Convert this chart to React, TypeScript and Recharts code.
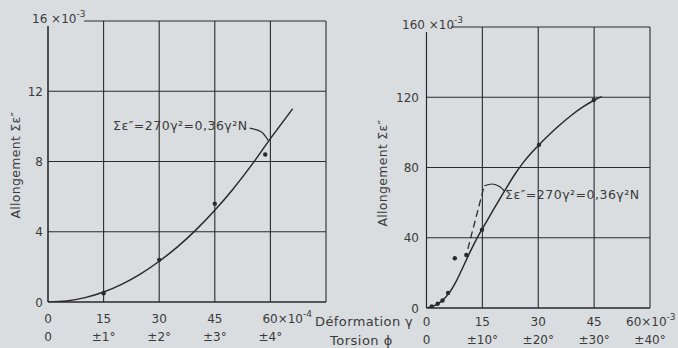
import React from 'react';
import { ComposedChart, Line, Scatter, XAxis, YAxis, CartesianGrid } from 'recharts';

// ---------- Left chart data ----------
const leftXTicks = [0, 15, 30, 45, 60, 75];
const leftYTicks = [0, 4, 8, 12, 16];
const leftDefLabels = ['0', '15', '30', '45', '60'];
const leftTorsionLabels = ['0', '±1°', '±2°', '±3°', '±4°'];
const leftCurveX = [0, 5, 10, 15, 20, 25, 30, 35, 40, 45, 50, 55, 60, 66];
const leftCurveY = [0, 0.06, 0.25, 0.57, 1.02, 1.6, 2.32, 3.15, 4.12, 5.22, 6.45, 7.82, 9.3, 11.0];
const leftPointsX = [15, 30, 45, 58.6];
const leftPointsY = [0.5, 2.4, 5.6, 8.4];
const leftLeaderX = [54.4, 57.5, 59.4];
const leftLeaderY = [9.9, 9.7, 9.2];

// ---------- Right chart data ----------
const rightXTicks = [0, 15, 30, 45, 60];
const rightYTicks = [0, 40, 80, 120, 160];
const rightDefLabels = ['0', '15', '30', '45', '60'];
const rightTorsionLabels = ['0', '±10°', '±20°', '±30°', '±40°'];
const rightCurveX = [0, 2, 4, 6, 8, 10, 12, 14, 16, 18, 20, 22, 24, 26, 28, 30, 33, 36, 39, 42, 45, 47];
const rightCurveY = [0, 1.2, 3.8, 8.3, 15.3, 24.2, 33.2, 41.5, 48.8, 56.1, 63.3, 70.3, 77.0, 82.9, 88.0, 92.5, 98.8, 104.6, 109.9, 114.5, 118.3, 120.4];
const rightPointsX = [1.4, 3, 4.3, 5.8, 7.6, 10.7, 14.9, 30.2, 44.9];
const rightPointsY = [0.9, 2.4, 4.3, 8.6, 28.3, 30.2, 44.6, 92.9, 118.4];
const rightDashX = [11.1, 15.5];
const rightDashY = [33.7, 69.6];
const rightLeaderX = [15.5, 17.6, 19.6, 21.0];
const rightLeaderY = [69.6, 70.6, 69.2, 66.4];

const zip = (xs: number[], ys: number[]) => xs.map((x, i) => ({ x, y: ys[i] }));

const leftCurve = zip(leftCurveX, leftCurveY);
const leftPoints = zip(leftPointsX, leftPointsY);
const leftLeader = zip(leftLeaderX, leftLeaderY);
const rightCurve = zip(rightCurveX, rightCurveY);
const rightPoints = zip(rightPointsX, rightPointsY);
const rightDash = zip(rightDashX, rightDashY);
const rightLeader = zip(rightLeaderX, rightLeaderY);

const BG = '#d9dde0';
const INK = '#2a2a2a';
const TXT = '#3a3a3a';
const FONT = '"DejaVu Sans", sans-serif';

const makeXTick = (ticks: number[], defs: string[], tors: string[], exp: string, expOffset: number, dy1: number, dy2: number) =>
  (props: any) => {
    const { x, y, payload } = props;
    const i = ticks.indexOf(payload.value);
    if (i < 0 || i >= defs.length) return <g />;
    const last = i === defs.length - 1;
    return (
      <g fontFamily={FONT} fill={TXT} fontSize={12}>
        {last ? (
          <text x={x - expOffset} y={y + dy1} textAnchor="start">
            {defs[i]}×10<tspan dy={-6} fontSize={9}>{exp}</tspan>
          </text>
        ) : (
          <text x={x} y={y + dy1} textAnchor="middle">{defs[i]}</text>
        )}
        <text x={x} y={y + dy2} textAnchor="middle">{tors[i]}</text>
      </g>
    );
  };

const makeYTick = (top: number, topLabel: string, topX: number, topW: number, endX: number) =>
  (props: any) => {
    const { y, payload } = props;
    if (payload.value === top) {
      return (
        <g fontFamily={FONT} fill={TXT} fontSize={12}>
          <rect x={topX - 2} y={y - 12} width={topW + 4} height={17} fill={BG} />
          <text x={topX} y={y + 2} textAnchor="start">
            {topLabel} ×10<tspan dy={-6} fontSize={9}>-3</tspan>
          </text>
        </g>
      );
    }
    return (
      <text x={endX} y={y + 4.5} textAnchor="end" fontFamily={FONT} fill={TXT} fontSize={12}>
        {payload.value}
      </text>
    );
  };

const leftXTick = makeXTick(leftXTicks, leftDefLabels, leftTorsionLabels, '-4', 8, 20.5, 38.5);
const rightXTick = makeXTick(rightXTicks, rightDefLabels, rightTorsionLabels, '-3', 24, 18, 36);
const leftYTick = makeYTick(16, '16', 32, 50, 43);
const rightYTick = makeYTick(160, '160', 402, 47, 419);

const Formula = ({ x, y }: { x: number; y: number }) => (
  <text x={x} y={y} fontFamily={FONT} fill={TXT} fontSize={12.5} letterSpacing={0.5}>
    Σε″=270γ²=0,36γ²N
  </text>
);

const chartStyle: React.CSSProperties = { position: 'absolute', left: 0, top: 0 };

export default function App() {
  return (
    <div style={{ position: 'absolute', left: 0, top: 0, width: 678, height: 348, background: BG, overflow: 'hidden' }}>
      {/* Left chart */}
      <div style={chartStyle}>
        <ComposedChart width={678} height={348} margin={{ top: 21, right: 352, bottom: 0, left: 0 }}>
          <CartesianGrid stroke={INK} strokeWidth={1.1} />
          <XAxis
            xAxisId={0}
            type="number"
            dataKey="x"
            domain={[0, 75]}
            ticks={leftXTicks}
            height={46}
            tickSize={0}
            tickMargin={0}
            axisLine={{ stroke: INK, strokeWidth: 1.1 }}
            tickLine={false}
            tick={leftXTick}
            allowDataOverflow
          />
          <YAxis
            yAxisId={0}
            type="number"
            dataKey="y"
            domain={[0, 16]}
            ticks={leftYTicks}
            width={48}
            tickSize={0}
            tickMargin={0}
            axisLine={{ stroke: INK, strokeWidth: 1.1 }}
            tickLine={false}
            tick={leftYTick}
            allowDataOverflow
          />
          <Line data={leftCurve} dataKey="y" type="monotone" stroke={INK} strokeWidth={1.5} dot={false} isAnimationActive={false} />
          <Line data={leftLeader} dataKey="y" type="natural" stroke={INK} strokeWidth={1.2} dot={false} isAnimationActive={false} />
          <Scatter data={leftPoints} dataKey="y" fill={INK} shape={(p: any) => <circle cx={p.cx} cy={p.cy} r={2.2} fill={INK} />} isAnimationActive={false} />
          <text x={15} y={165} transform="rotate(-90 15 165)" textAnchor="middle" dominantBaseline="central" fontFamily={FONT} fill={TXT} fontSize={12.5} letterSpacing={0.3}>
            Allongement  Σε″
          </text>
          <Formula x={113} y={130} />
          <text x={315} y={325.5} fontFamily={FONT} fill={TXT} fontSize={13} letterSpacing={0.4}>Déformation γ</text>
          <text x={330} y={344.5} fontFamily={FONT} fill={TXT} fontSize={13} letterSpacing={0.5}>Torsion ϕ</text>
        </ComposedChart>
      </div>
      {/* Right chart */}
      <div style={chartStyle}>
        <ComposedChart width={678} height={348} margin={{ top: 27, right: 28, bottom: 0, left: 0 }}>
          <CartesianGrid stroke={INK} strokeWidth={1.1} />
          <XAxis
            xAxisId={0}
            type="number"
            dataKey="x"
            domain={[0, 60]}
            ticks={rightXTicks}
            height={40}
            tickSize={0}
            tickMargin={0}
            axisLine={{ stroke: INK, strokeWidth: 1.1 }}
            tickLine={false}
            tick={rightXTick}
            allowDataOverflow
          />
          <YAxis
            yAxisId={0}
            type="number"
            dataKey="y"
            domain={[0, 160]}
            ticks={rightYTicks}
            width={426.5}
            tickSize={0}
            tickMargin={0}
            axisLine={{ stroke: INK, strokeWidth: 1.1 }}
            tickLine={false}
            tick={rightYTick}
            allowDataOverflow
          />
          <Line data={rightCurve} dataKey="y" type="monotone" stroke={INK} strokeWidth={1.5} dot={false} isAnimationActive={false} />
          <Line data={rightDash} dataKey="y" type="linear" stroke={INK} strokeWidth={1.3} strokeDasharray="7 4" dot={false} isAnimationActive={false} />
          <Line data={rightLeader} dataKey="y" type="natural" stroke={INK} strokeWidth={1.2} dot={false} isAnimationActive={false} />
          <Scatter data={rightPoints} dataKey="y" fill={INK} shape={(p: any) => <circle cx={p.cx} cy={p.cy} r={2.2} fill={INK} />} isAnimationActive={false} />
          <text x={382} y={173} transform="rotate(-90 382 173)" textAnchor="middle" dominantBaseline="central" fontFamily={FONT} fill={TXT} fontSize={12.5} letterSpacing={0.3}>
            Allongement  Σε″
          </text>
          <Formula x={505} y={199} />
        </ComposedChart>
      </div>
    </div>
  );
}
